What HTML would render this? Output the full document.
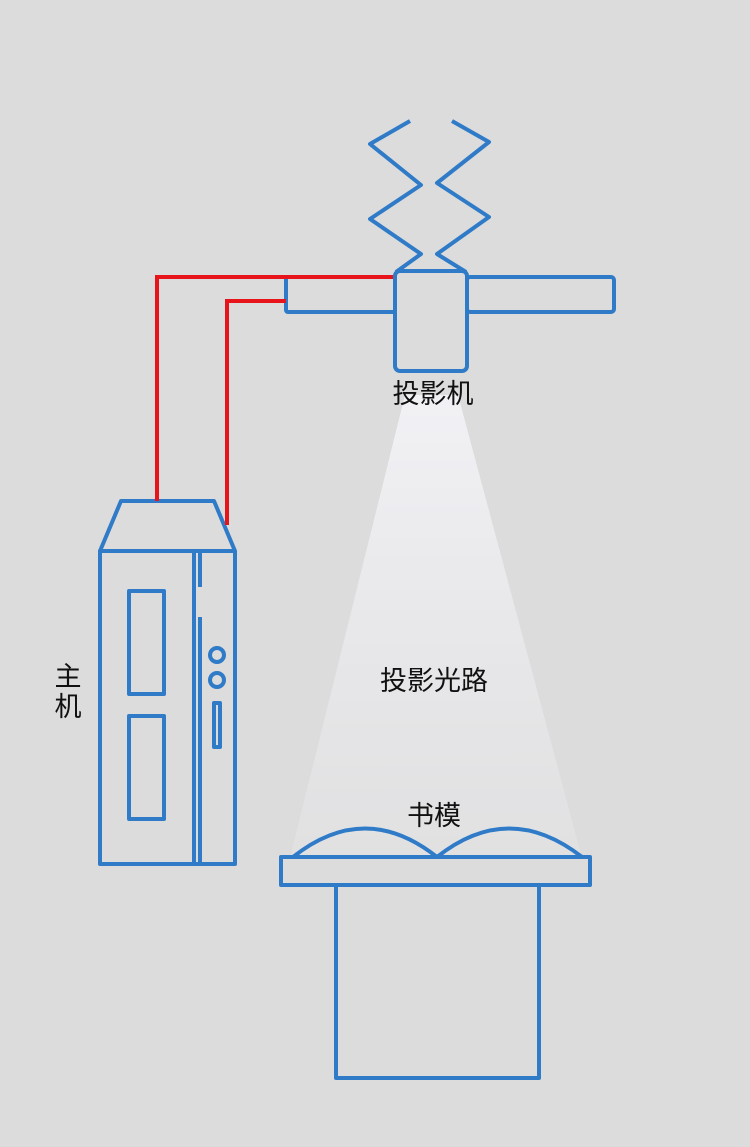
<!DOCTYPE html>
<html><head><meta charset="utf-8"><style>
body{margin:0;background:#dcdcdc}
svg{display:block}
text{font-family:"Liberation Sans","Noto Sans CJK SC",sans-serif;font-size:27px;fill:#111}
</style></head><body>
<svg width="750" height="1147" viewBox="0 0 750 1147">
<defs><linearGradient id="g" x1="0" y1="0" x2="0" y2="1">
<stop offset="0" stop-color="#f4f4f8" stop-opacity="0.9"/>
<stop offset="1" stop-color="#e4e4e6" stop-opacity="0.6"/></linearGradient></defs>
<rect width="750" height="1147" fill="#dcdcdc"/>
<polygon points="405,395 458,395 582,858 290,858" fill="url(#g)"/>
<g fill="none" stroke="#2f7bc8" stroke-width="4" stroke-linejoin="round">
<polyline points="410,121 370,144 421,185 370,219 421,254 396,272"/>
<polyline points="452,121 489,142 437,183 489,217 437,254 466,272"/>
<rect x="286" y="277" width="109" height="35" rx="2"/>
<rect x="467" y="277" width="147" height="35" rx="3"/>
<rect x="395" y="271" width="72" height="100" rx="5"/>
<polygon points="121,501 214,501 235,551 100,551"/>
<rect x="100" y="551" width="94" height="313"/>
<polyline points="194,864 235,864 235,551"/>
<line x1="200" y1="553" x2="200" y2="587"/>
<line x1="200" y1="617" x2="200" y2="864"/>
<rect x="129" y="591" width="35" height="103"/>
<rect x="129" y="716" width="35" height="103"/>
<circle cx="217" cy="655" r="7"/>
<circle cx="217" cy="680" r="7"/>
<rect x="214" y="703" width="6" height="44"/>
<rect x="281" y="857" width="309" height="28"/>
<rect x="336" y="885" width="203" height="193"/>
<path d="M293,857 Q365,800 437,857 Q509,800 582,857"/>
</g>
<g fill="none" stroke="#e8141c" stroke-width="4">
<polyline points="157,501 157,277 393,277"/>
<polyline points="227,525 227,301 286,301"/>
</g>
<text x="433" y="403" text-anchor="middle">投影机</text>
<text x="434" y="690" text-anchor="middle">投影光路</text>
<text x="434" y="825" text-anchor="middle">书模</text>
<text x="68" y="686" text-anchor="middle">主</text>
<text x="68" y="716" text-anchor="middle">机</text>
</svg>
</body></html>
